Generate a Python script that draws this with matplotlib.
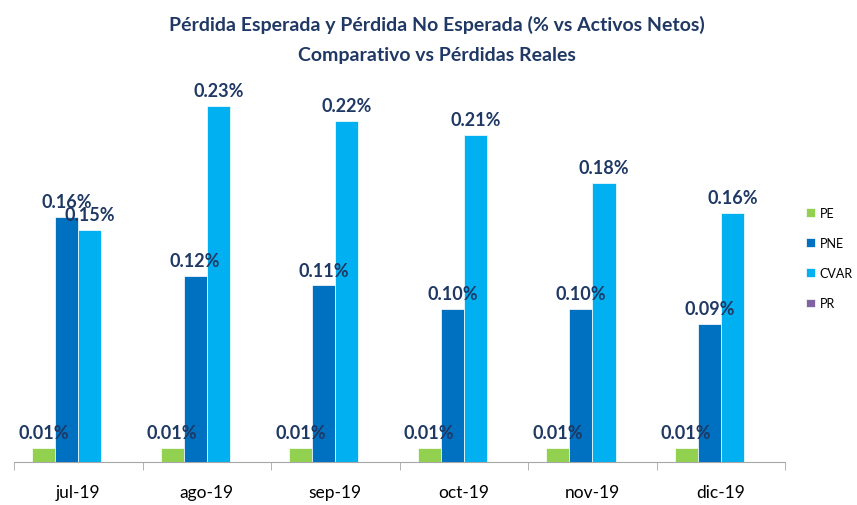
import numpy as np
import matplotlib.pyplot as plt

# data (% vs activos netos)
months = ['jul-19', 'ago-19', 'sep-19', 'oct-19', 'nov-19', 'dic-19']
pe = [0.009, 0.009, 0.009, 0.009, 0.009, 0.009]
pne = [0.158, 0.120, 0.114, 0.099, 0.099, 0.089]
cvar = [0.150, 0.230, 0.220, 0.211, 0.180, 0.161]
pr = [0, 0, 0, 0, 0, 0]
pe_lbl = ['0.01%'] * 6
pne_lbl = ['0.16%', '0.12%', '0.11%', '0.10%', '0.10%', '0.09%']
cvar_lbl = ['0.15%', '0.23%', '0.22%', '0.21%', '0.18%', '0.16%']

plt.rcParams['font.family'] = ['Lato', 'DejaVu Sans']
navy = '#1F3864'

fig = plt.figure(figsize=(8.57, 5.06), dpi=100)
ax = fig.add_axes([0.0163, 0.085, 0.90, 0.765])

x = np.arange(len(months))
w = 0.18
series = [
    ('PE', pe, '#92D050', pe_lbl),
    ('PNE', pne, '#0070C0', pne_lbl),
    ('CVAR', cvar, '#00B0F0', cvar_lbl),
    ('PR', pr, '#8064A2', None),
]
for i, (name, vals, col, lbls) in enumerate(series):
    pos = x + (i - 1.5) * w
    ax.bar(pos, vals, width=w, color=col, label=name, edgecolor='white', linewidth=0.5)
    if lbls:
        for px, v, t in zip(pos, vals, lbls):
            ax.text(px, v + 0.0045, t, ha='center', va='bottom', fontsize=13,
                    fontweight='bold', color=navy)

ax.set_xlim(-0.5, len(months) - 0.5)
ax.set_ylim(0, 0.25)
ax.set_yticks([])
ax.set_xticks(x)
ax.set_xticklabels(months, fontsize=12.5)
ax.tick_params(axis='x', length=0, pad=16)
ax.set_xticks(np.arange(-0.5, len(months)), minor=True)
ax.tick_params(axis='x', which='minor', length=6, color='#A6A6A6')
for s in ['top', 'right', 'left']:
    ax.spines[s].set_visible(False)
ax.spines['bottom'].set_color('#A6A6A6')

fig.text(0.51, 0.950, 'Pérdida Esperada y Pérdida No Esperada (% vs Activos Netos)',
         ha='center', va='center', fontsize=14, fontweight='bold', color=navy)
fig.text(0.51, 0.890, 'Comparativo vs Pérdidas Reales',
         ha='center', va='center', fontsize=14, fontweight='bold', color=navy)

fig.legend(loc='center left', bbox_to_anchor=(0.93, 0.488), frameon=False,
           fontsize=9, handlelength=0.7, handleheight=0.7, labelspacing=1.45,
           handletextpad=0.4, borderpad=0.2)

fig.savefig('out.png', dpi=100)
